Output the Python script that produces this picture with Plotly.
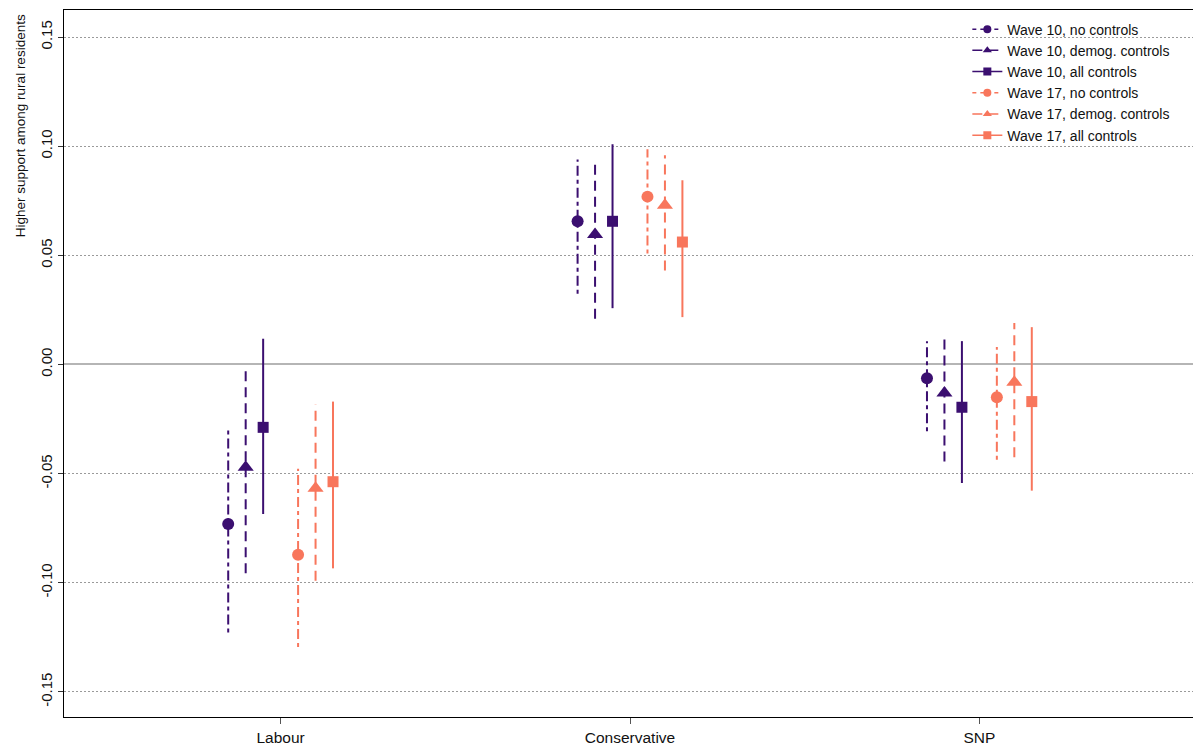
import plotly.graph_objects as go

# ---- data ----
categories = ["Labour", "Conservative", "SNP"]
series_names = [
    "Wave 10, no controls",
    "Wave 10, demog. controls",
    "Wave 10, all controls",
    "Wave 17, no controls",
    "Wave 17, demog. controls",
    "Wave 17, all controls",
]
w10_none_est = [-0.0731, 0.0656, -0.0063]
w10_none_lo = [-0.1228, 0.0324, -0.0306]
w10_none_hi = [-0.0303, 0.0939, 0.0107]
w10_demog_est = [-0.0471, 0.0596, -0.0131]
w10_demog_lo = [-0.0957, 0.0210, -0.0445]
w10_demog_hi = [-0.0009, 0.0921, 0.0115]
w10_all_est = [-0.0288, 0.0656, -0.0196]
w10_all_lo = [-0.0685, 0.0258, -0.0543]
w10_all_hi = [0.0118, 0.1009, 0.0107]
w17_none_est = [-0.0872, 0.0769, -0.0150]
w17_none_lo = [-0.1294, 0.0508, -0.0436]
w17_none_hi = [-0.0478, 0.0986, 0.0080]
w17_demog_est = [-0.0567, 0.0729, -0.0081]
w17_demog_lo = [-0.0991, 0.0431, -0.0425]
w17_demog_hi = [-0.0183, 0.0959, 0.0190]
w17_all_est = [-0.0537, 0.0561, -0.0170]
w17_all_lo = [-0.0934, 0.0217, -0.0578]
w17_all_hi = [-0.0170, 0.0844, 0.0171]

y_tick_vals = [-0.15, -0.10, -0.05, 0.00, 0.05, 0.10, 0.15]
y_tick_text = ["-0.15", "-0.10", "-0.05", "0.00", "0.05", "0.10", "0.15"]
y_title = "Higher support among rural residents"

# ---- styles ----
PURPLE = "#3B0F70"
SALMON = "#F8765C"
FONT = "Liberation Sans, Arial, sans-serif"

series = [
    (w10_none_est, w10_none_lo, w10_none_hi, PURPLE, "4px,4px,10px,4px", "circle", 12, -0.15),
    (w10_demog_est, w10_demog_lo, w10_demog_hi, PURPLE, "10px,6px", "triangle-up", 14, -0.10),
    (w10_all_est, w10_all_lo, w10_all_hi, PURPLE, "solid", "square", 11, -0.05),
    (w17_none_est, w17_none_lo, w17_none_hi, SALMON, "4px,4px,10px,4px", "circle", 12, 0.05),
    (w17_demog_est, w17_demog_lo, w17_demog_hi, SALMON, "10px,6px", "triangle-up", 14, 0.10),
    (w17_all_est, w17_all_lo, w17_all_hi, SALMON, "solid", "square", 11, 0.15),
]

fig = go.Figure()

for name, (est, lo, hi, color, dash, symbol, msize, off) in zip(series_names, series):
    xs, ys = [], []
    xm = []
    for i in range(len(categories)):
        xpos = i + 1 + off
        xs += [xpos, xpos, None]
        ys += [lo[i], hi[i], None]
        xm.append(xpos)
    fig.add_trace(go.Scatter(
        x=xs, y=ys, mode="lines", showlegend=False, hoverinfo="skip",
        line=dict(color=color, width=2, dash=dash),
    ))
    fig.add_trace(go.Scatter(
        x=xm, y=est, mode="markers", showlegend=False,
        marker=dict(color=color, symbol=symbol, size=msize, line=dict(width=0)),
    ))
    fig.add_trace(go.Scatter(
        x=[None], y=[None], mode="lines+markers", name=name,
        line=dict(color=color, width=1.5, dash=dash),
        marker=dict(color=color, symbol=symbol, size=8, line=dict(width=0)),
    ))

fig.update_layout(
    width=1193, height=745,
    margin=dict(l=56, r=5, t=2, b=36),
    paper_bgcolor="white", plot_bgcolor="white",
    font=dict(family=FONT, size=15, color="#111111"),
    showlegend=True,
    legend=dict(
        x=0.798, y=0.995, xanchor="left", yanchor="top",
        bgcolor="rgba(0,0,0,0)", borderwidth=0,
        font=dict(family=FONT, size=14, color="#111111"),
        tracegroupgap=0, itemwidth=30,
    ),
    xaxis=dict(
        range=[0.38, 3.62], tickmode="array", tickvals=[1, 2, 3], ticktext=categories,
        showgrid=False, zeroline=False, automargin=False,
        showline=True, mirror=True, linecolor="black", linewidth=1,
        ticks="outside", ticklen=6, tickcolor="#555555", tickwidth=1,
        tickfont=dict(family=FONT, size=15.5, color="#111111"),
    ),
    yaxis=dict(
        range=[-0.1615, 0.1624], tickmode="array", tickvals=y_tick_vals, ticktext=y_tick_text,
        tickangle=-90, automargin=False,
        showgrid=True, gridcolor="#9a9a9a", gridwidth=1, griddash="2px,2px",
        zeroline=True, zerolinecolor="#b5b5b5", zerolinewidth=1.5,
        showline=True, mirror=True, linecolor="black", linewidth=1,
        ticks="outside", ticklen=5, tickcolor="#333333", tickwidth=1,
        tickfont=dict(family=FONT, size=15, color="#111111"),
    ),
    annotations=[dict(
        text=y_title, textangle=-90, xref="paper", yref="paper",
        x=-0.0389, y=0.837, xanchor="center", yanchor="middle", showarrow=False,
        font=dict(family=FONT, size=13.5, color="#111111"),
    )],
)

fig.write_html("out.html")
